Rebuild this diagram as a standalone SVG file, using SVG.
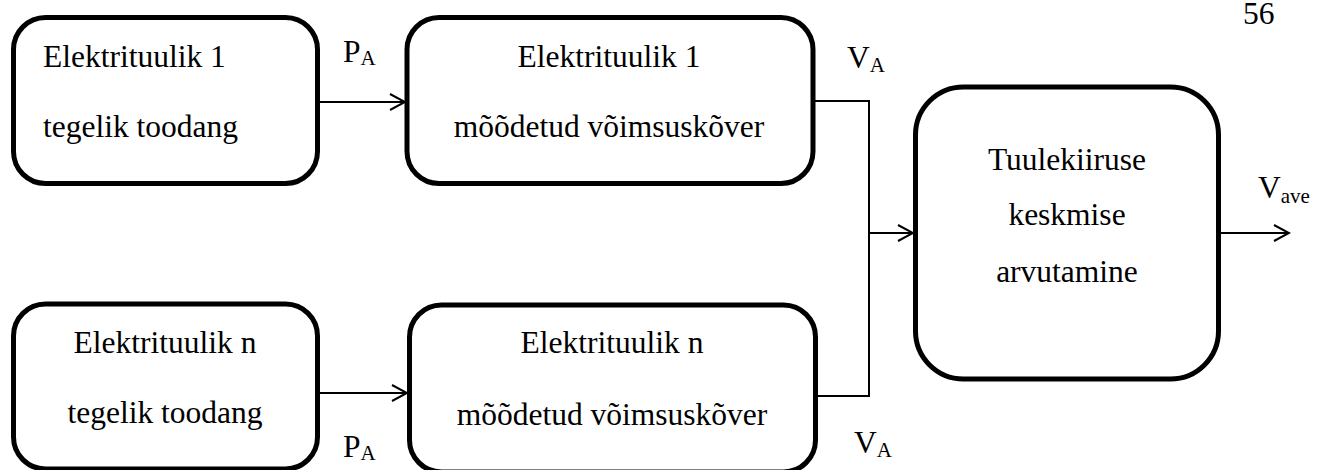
<svg xmlns="http://www.w3.org/2000/svg" width="1321" height="470" viewBox="0 0 1321 470">
  <style>
    .box { fill: #fff; stroke: #000; stroke-width: 5; }
    .lbl { font-family: "Liberation Serif", Tinos, "Times New Roman", "DejaVu Serif", serif; font-size: 31.5px; fill: #000; }
    .mid { text-anchor: middle; }
    .sub { font-size: 21px; }
    .wire { fill: none; stroke: #000; stroke-width: 2; }
  </style>
  <defs>
    <marker id="open" markerWidth="18" markerHeight="20" refX="16" refY="9" orient="auto" markerUnits="userSpaceOnUse">
      <path d="M1,1 L16,9 L1,17" fill="none" stroke="#000" stroke-width="2"/>
    </marker>
  </defs>

  <!-- page number -->
  <text class="lbl" x="1243" y="24">56</text>

  <!-- connectors -->
  <g id="connectors">
    <line class="wire" x1="320" y1="102" x2="405" y2="102" marker-end="url(#open)"/>
    <line class="wire" x1="319" y1="393" x2="407" y2="393" marker-end="url(#open)"/>
    <polyline class="wire" points="815,101 869,101 869,396 815,396"/>
    <line class="wire" x1="869" y1="233" x2="913" y2="233" marker-end="url(#open)"/>
    <line class="wire" x1="1221" y1="233" x2="1289" y2="233" marker-end="url(#open)"/>
  </g>

  <!-- signal labels -->
  <g id="labels">
    <text class="lbl" x="343" y="62">P<tspan class="sub" dy="3">A</tspan></text>
    <text class="lbl" x="343" y="457">P<tspan class="sub" dy="3">A</tspan></text>
    <text class="lbl" x="847" y="68">V<tspan class="sub" dy="4">A</tspan></text>
    <text class="lbl" x="854" y="453">V<tspan class="sub" dy="4">A</tspan></text>
    <text class="lbl" x="1258" y="198">V<tspan class="sub" dy="5" font-size="22">ave</tspan></text>
  </g>

  <g id="turbine1-output">
    <rect class="box" x="13.5" y="17.5" width="304" height="166" rx="32"/>
    <text class="lbl" x="43" y="67">Elektrituulik 1</text>
    <text class="lbl" x="43" y="137">tegelik toodang</text>
  </g>

  <g id="turbine1-curve">
    <rect class="box" x="407" y="17.5" width="406" height="166" rx="32"/>
    <text class="lbl mid" x="609" y="67">Elektrituulik 1</text>
    <text class="lbl mid" x="609" y="137">mõõdetud võimsuskõver</text>
  </g>

  <g id="turbineN-output">
    <rect class="box" x="13.5" y="304" width="304" height="165" rx="32"/>
    <text class="lbl mid" x="165" y="353">Elektrituulik n</text>
    <text class="lbl mid" x="165" y="423">tegelik toodang</text>
  </g>

  <g id="turbineN-curve">
    <rect class="box" x="409.5" y="305" width="406" height="167" rx="32"/>
    <text class="lbl mid" x="612" y="353">Elektrituulik n</text>
    <text class="lbl mid" x="612" y="425">mõõdetud võimsuskõver</text>
  </g>

  <g id="wind-average">
    <rect class="box" x="915.5" y="87" width="303" height="292" rx="48"/>
    <text class="lbl mid" x="1067" y="170">Tuulekiiruse</text>
    <text class="lbl mid" x="1067" y="225">keskmise</text>
    <text class="lbl mid" x="1067" y="282">arvutamine</text>
  </g>
</svg>
